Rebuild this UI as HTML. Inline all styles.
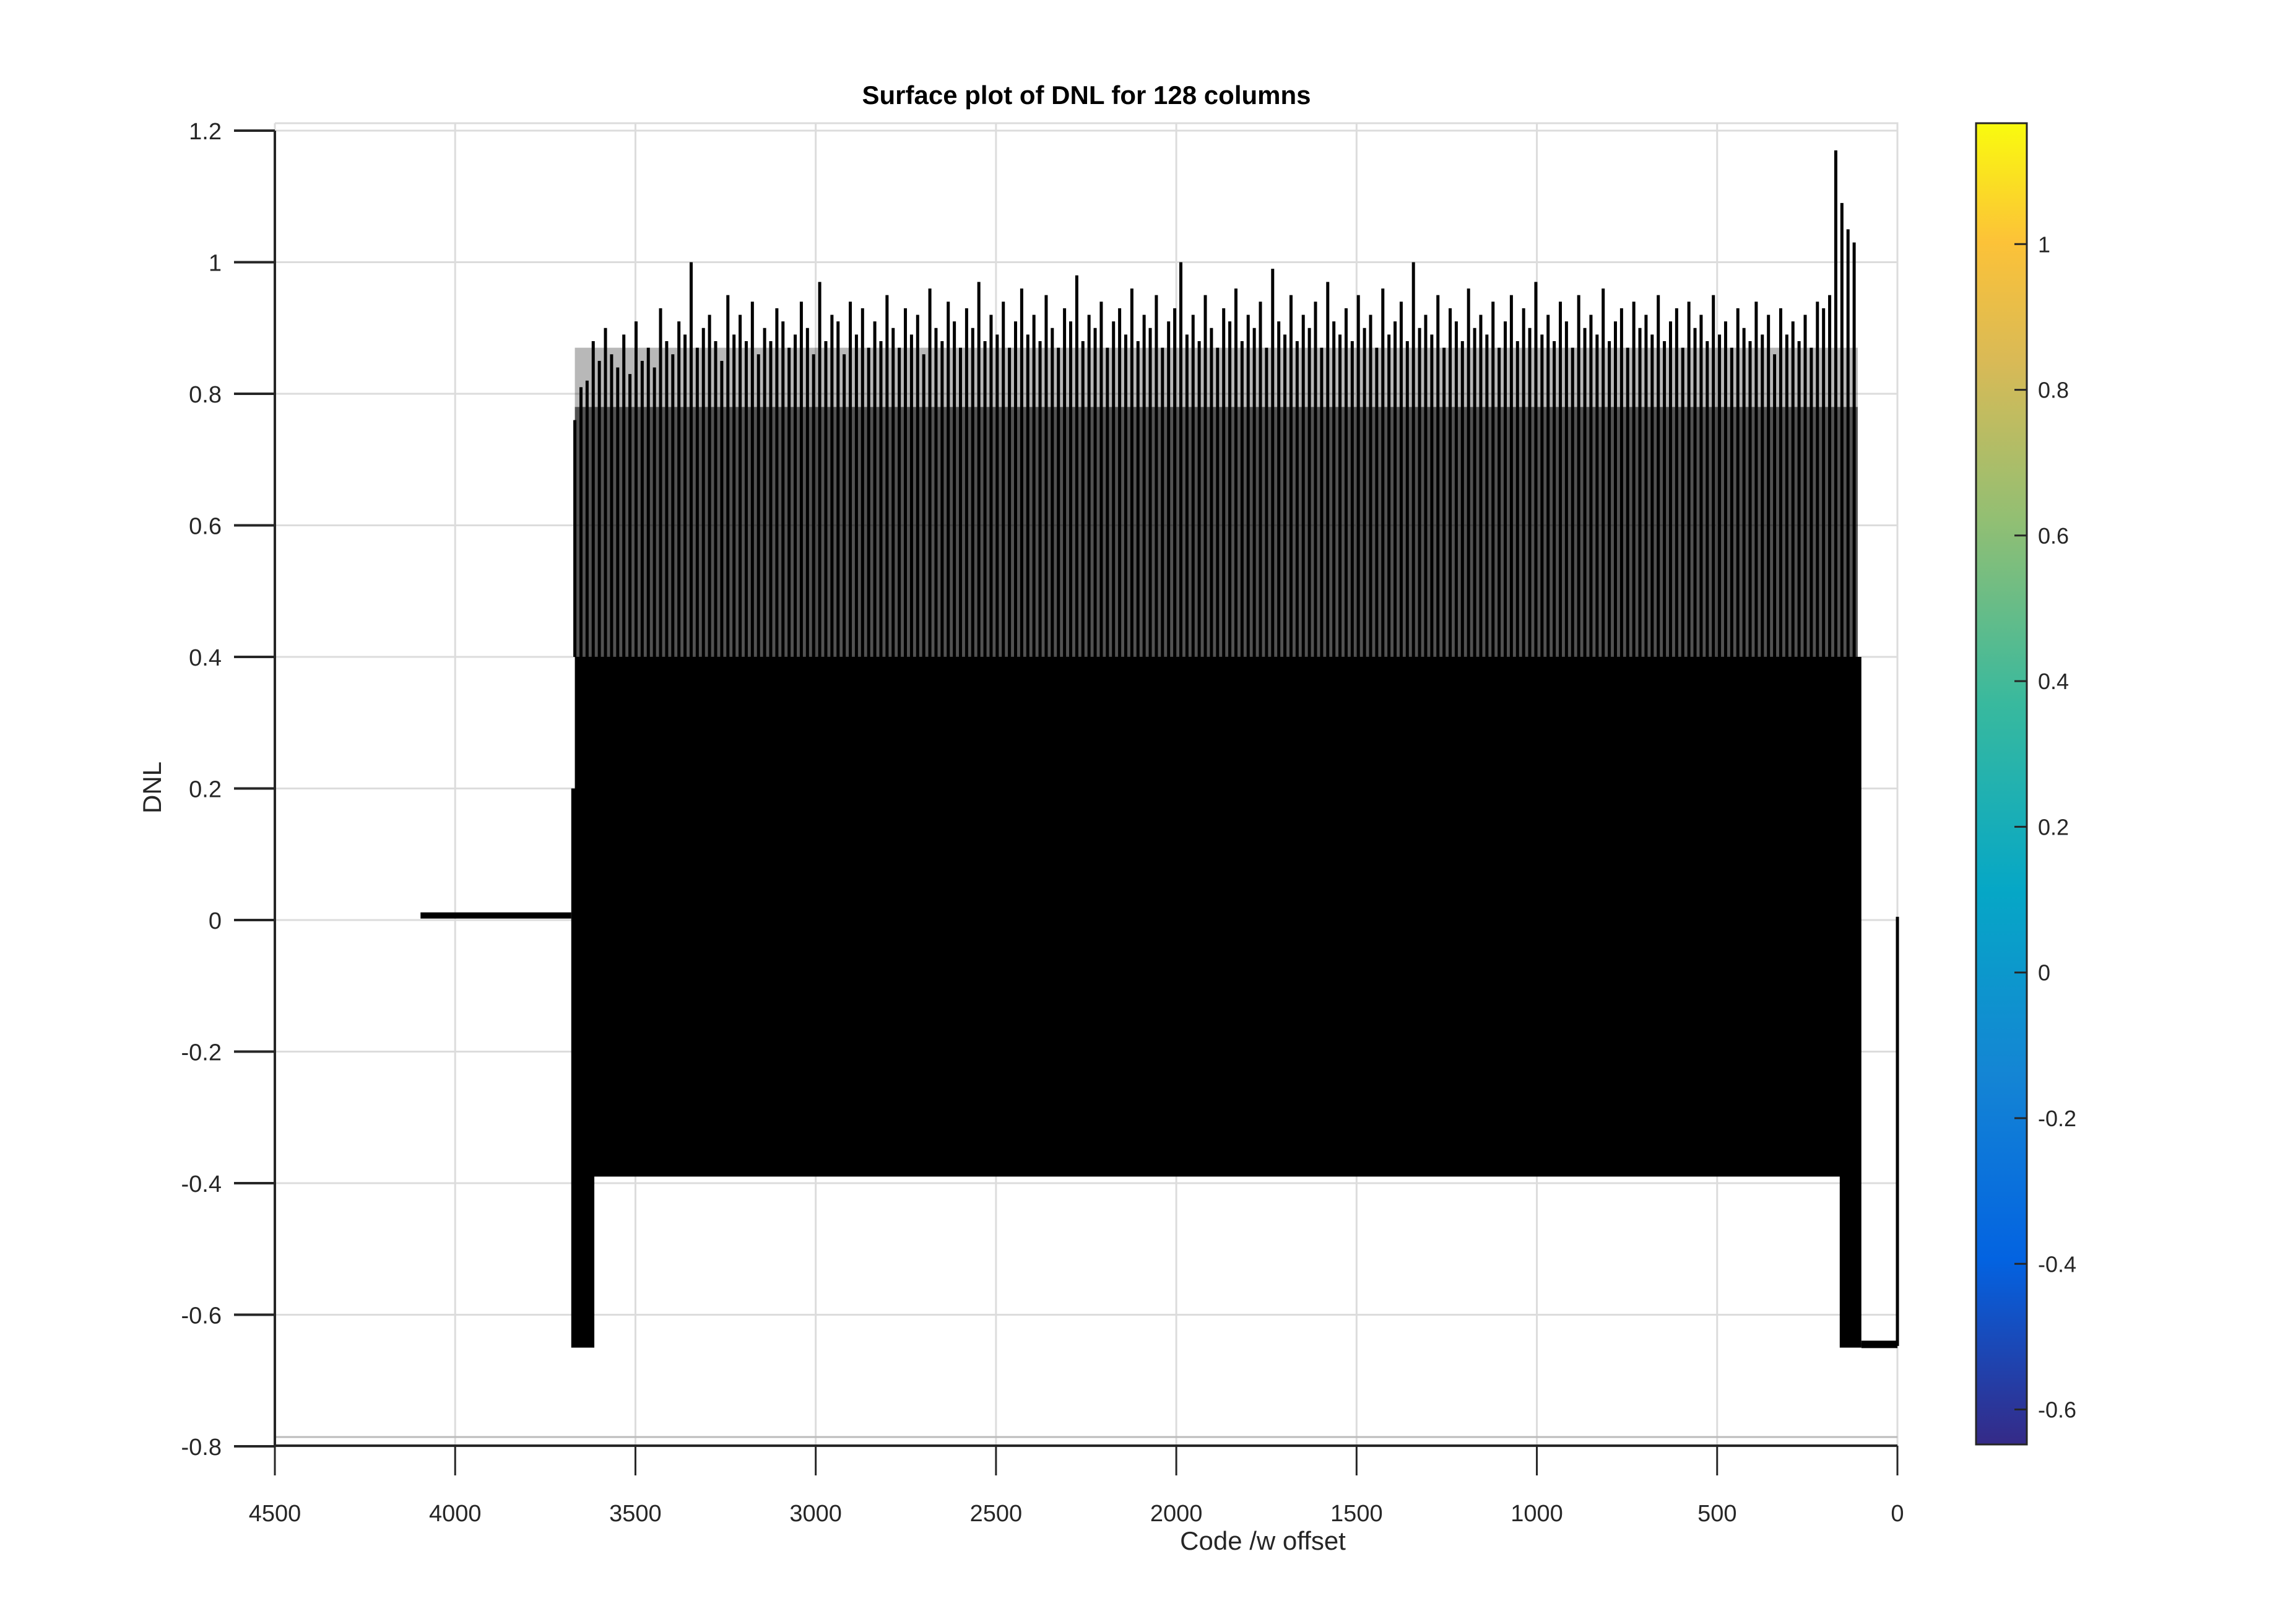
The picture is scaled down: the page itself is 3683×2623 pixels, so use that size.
<!DOCTYPE html>
<html><head><meta charset="utf-8">
<style>
html,body{margin:0;padding:0;background:#fff;}
svg{display:block;}
text{font-family:"Liberation Sans Narrow","Liberation Sans",sans-serif;fill:#262626;}
</style></head>
<body>
<svg id="chart" width="3683" height="2623" viewBox="0 0 3683 2623" xmlns="http://www.w3.org/2000/svg">
<defs>
<linearGradient id="parula" x1="0" y1="1" x2="0" y2="0">
<stop offset="0" stop-color="#352a87"/>
<stop offset="0.14" stop-color="#0363e1"/>
<stop offset="0.28" stop-color="#1485d4"/>
<stop offset="0.42" stop-color="#06a7c6"/>
<stop offset="0.56" stop-color="#38b99e"/>
<stop offset="0.70" stop-color="#92bf73"/>
<stop offset="0.82" stop-color="#d9ba56"/>
<stop offset="0.91" stop-color="#fcc238"/>
<stop offset="1" stop-color="#f9fb0e"/>
</linearGradient>
</defs>
<g id="grid"></g>
<g id="marks"></g>
<g id="axes"></g>
<text x="1755" y="168" text-anchor="middle" font-size="42" font-weight="bold" style="fill:#000">Surface plot of DNL for 128 columns</text>
<text x="2040" y="2503" text-anchor="middle" font-size="42">Code /w offset</text>
<text transform="translate(260,1272) rotate(-90)" text-anchor="middle" font-size="42">DNL</text>
<g id="cbar"></g>
</svg>
<script>
const xTicks = [4500,4000,3500,3000,2500,2000,1500,1000,500,0];
const yTicks = [1.2,1,0.8,0.6,0.4,0.2,0,-0.2,-0.4,-0.6,-0.8];
const yTickLabels = ["1.2","1","0.8","0.6","0.4","0.2","0","-0.2","-0.4","-0.6","-0.8"];
const cbarTicks = [1,0.8,0.6,0.4,0.2,0,-0.2,-0.4,-0.6];
const cbarRange = [-0.648,1.166];
const flatSegment = [4096,3678,0.007];
const bandCodes = [3668,110];
const bandLevels = [0.4,-0.39];
const minorLevels = [0.78,0.87];
const leftDrop = [3678,3614,-0.65];
const rightDrop = [160,100,-0.65];
const rightTail = [100,0,-0.645,0.005];
const spikeStart = 3668, spikeEnd = 120;
const spikePeaks = [
0.76,0.81,0.82,0.88,0.85,0.90,0.86,0.84,0.89,0.83,0.91,0.85,0.87,0.84,0.93,0.88,0.86,0.91,0.89,1.00,
0.87,0.90,0.92,0.88,0.85,0.95,0.89,0.92,0.88,0.94,0.86,0.90,0.88,0.93,0.91,0.87,0.89,0.94,0.90,0.86,
0.97,0.88,0.92,0.91,0.86,0.94,0.89,0.93,0.87,0.91,0.88,0.95,0.90,0.87,0.93,0.89,0.92,0.86,0.96,0.90,
0.88,0.94,0.91,0.87,0.93,0.90,0.97,0.88,0.92,0.89,0.94,0.87,0.91,0.96,0.89,0.92,0.88,0.95,0.90,0.87,
0.93,0.91,0.98,0.88,0.92,0.90,0.94,0.87,0.91,0.93,0.89,0.96,0.88,0.92,0.90,0.95,0.87,0.91,0.93,1.00,
0.89,0.92,0.88,0.95,0.90,0.87,0.93,0.91,0.96,0.88,0.92,0.90,0.94,0.87,0.99,0.91,0.89,0.95,0.88,0.92,
0.90,0.94,0.87,0.97,0.91,0.89,0.93,0.88,0.95,0.90,0.92,0.87,0.96,0.89,0.91,0.94,0.88,1.00,0.90,0.92,
0.89,0.95,0.87,0.93,0.91,0.88,0.96,0.90,0.92,0.89,0.94,0.87,0.91,0.95,0.88,0.93,0.90,0.97,0.89,0.92,
0.88,0.94,0.91,0.87,0.95,0.90,0.92,0.89,0.96,0.88,0.91,0.93,0.87,0.94,0.90,0.92,0.89,0.95,0.88,0.91,
0.93,0.87,0.94,0.90,0.92,0.88,0.95,0.89,0.91,0.87,0.93,0.90,0.88,0.94,0.89,0.92,0.86,0.93,0.89,0.91,
0.88,0.92,0.87,0.94,0.93,0.95,1.17,1.09,1.05,1.03
];

const L=444, R=3065, T=199, B=2335;
const px = v => L + (4500 - v) / 4500 * (R - L);
const py = v => 211 + (1.2 - v) / 0.2 * 212.5;
const NS='http://www.w3.org/2000/svg';
function mk(tag, parent, attrs){const e=document.createElementNS(NS,tag);for(const k in attrs)e.setAttribute(k,attrs[k]);parent.appendChild(e);return e;}
const grid=document.getElementById('grid'), marks=document.getElementById('marks'), axes=document.getElementById('axes'), cbar=document.getElementById('cbar');

xTicks.forEach(v=>{
  const g=mk('line',grid,{x1:px(v),x2:px(v),y1:T,y2:B,stroke:'#dcdcdc','stroke-width':3});
  
  
  const t=mk('line',axes,{x1:px(v),x2:px(v),y1:B,y2:B+48,stroke:'#262626','stroke-width':3});
  
  
  const l=mk('text',axes,{x:px(v),y:2457,'text-anchor':'middle','font-size':38});
  
  
  l.textContent=String(v);
});
yTicks.forEach((v,i)=>{
  const g=mk('line',grid,{x1:L,x2:R,y1:py(v),y2:py(v),stroke:'#dcdcdc','stroke-width':3});
  
  
  const t=mk('line',axes,{x1:L-66,x2:L,y1:py(v),y2:py(v),stroke:'#262626','stroke-width':4});
  
  
  const l=mk('text',axes,{x:358,y:py(v)+14,'text-anchor':'end','font-size':38});
  
  
  l.textContent=yTickLabels[i];
});
const bx=mk('path',grid,{d:`M${L},${T} H${R} V${B-10}`,fill:'none',stroke:'#dcdcdc','stroke-width':3});


const fl=mk('path',axes,{d:`M${L},${B-14} H${R}`,fill:'none',stroke:'#bbb','stroke-width':3});


const ya=mk('line',axes,{x1:L,x2:L,y1:py(1.2),y2:B,stroke:'#262626','stroke-width':4});


const xa=mk('line',axes,{x1:L,x2:R,y1:B,y2:B,stroke:'#262626','stroke-width':4});



const f=mk('line',marks,{x1:px(flatSegment[0]),x2:px(flatSegment[1]),y1:py(flatSegment[2]),y2:py(flatSegment[2]),stroke:'#000','stroke-width':10});


const m1=mk('rect',marks,{x:px(bandCodes[0]),y:py(minorLevels[0]),width:px(bandCodes[1])-px(bandCodes[0]),height:py(bandLevels[0])-py(minorLevels[0]),fill:'#000','fill-opacity':0.68});


const m2=mk('rect',marks,{x:px(bandCodes[0]),y:py(minorLevels[1]),width:px(bandCodes[1])-px(bandCodes[0]),height:py(minorLevels[0])-py(minorLevels[1]),fill:'#000','fill-opacity':0.28});


const n=spikePeaks.length;
spikePeaks.forEach((v,i)=>{
  const c=spikeStart+(spikeEnd-spikeStart)*i/(n-1);
  const s=mk('line',marks,{x1:px(c),x2:px(c),y1:py(bandLevels[0]),y2:py(v),stroke:'#000','stroke-width':5});
  
  
});
const band=mk('rect',marks,{x:px(bandCodes[0]),y:py(bandLevels[0]),width:px(bandCodes[1])-px(bandCodes[0]),height:py(bandLevels[1])-py(bandLevels[0]),fill:'#000'});


const ld=mk('rect',marks,{x:px(leftDrop[0]),y:py(0.2),width:px(leftDrop[1])-px(leftDrop[0]),height:py(leftDrop[2])-py(0.2),fill:'#000'});


const rd=mk('rect',marks,{x:px(rightDrop[0]),y:py(bandLevels[0]),width:px(rightDrop[1])-px(rightDrop[0]),height:py(rightDrop[2])-py(bandLevels[0]),fill:'#000'});


const rt=mk('path',marks,{d:`M${px(rightTail[0])},${py(rightTail[2])} H${px(rightTail[1])} V${py(rightTail[3])}`,fill:'none',stroke:'#000','stroke-width':5});


const rt2=mk('line',marks,{x1:px(rightTail[0]),x2:px(rightTail[1]),y1:py(rightTail[2]),y2:py(rightTail[2]),stroke:'#000','stroke-width':12});



const CT=199, CB=2333, CL=3192, CR=3274;
const cy = v => CB - (v - cbarRange[0]) / (cbarRange[1] - cbarRange[0]) * (CB - CT);
const cr=mk('rect',cbar,{x:CL,y:CT,width:CR-CL,height:CB-CT,fill:'url(#parula)',stroke:'#262626','stroke-width':3});


cbarTicks.forEach(v=>{
  const t=mk('line',cbar,{x1:CR-20,x2:CR,y1:cy(v),y2:cy(v),stroke:'#262626','stroke-width':3});
  
  
  const l=mk('text',cbar,{x:CR+18,y:cy(v)+13,'font-size':36});
  
  
  l.textContent=String(v);
});
</script>
</body></html>
